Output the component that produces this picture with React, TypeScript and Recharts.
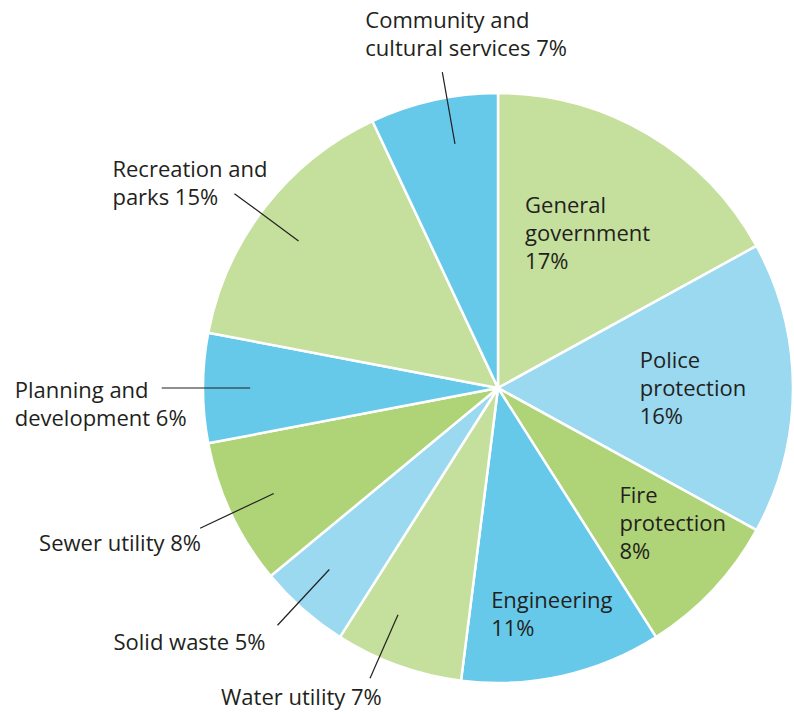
import React from "react";
import { Cell, Pie, PieChart } from "recharts";

// spending shares, clockwise from 12 o'clock
const categories = [
  "General government",
  "Police protection",
  "Fire protection",
  "Engineering",
  "Water utility",
  "Solid waste",
  "Sewer utility",
  "Planning and development",
  "Recreation and parks",
  "Community and cultural services",
];
const shares = [17, 16, 8, 11, 7, 5, 8, 6, 15, 7];
const sliceColors = [
  "#c5df9d",
  "#9ad9f0",
  "#aed477",
  "#67c9ea",
  "#c5df9d",
  "#9ad9f0",
  "#aed477",
  "#67c9ea",
  "#c5df9d",
  "#67c9ea",
];

const data = categories.map((name, i) => ({ name, value: shares[i] }));

const RAD = Math.PI / 180;
const INK = "#231f20";
const LINE_H = 28;

// label layout: inside labels sit at k*R on the mid angle, outside labels hang off a leader line
type Layout = {
  inside: boolean;
  k: number; // radius factor of the anchor / line end
  shift?: number; // degrees (clockwise) to nudge the leader line
  dx: number;
  dy: number;
  breakAt: number; // words on first line, 0 = no break
  pctOwnLine: boolean;
};

const layout: Record<string, Layout> = {
  "General government": { inside: true, k: 0.58, dx: -60, dy: -28, breakAt: 1, pctOwnLine: true },
  "Police protection": { inside: true, k: 0.66, dx: -53, dy: -20, breakAt: 1, pctOwnLine: true },
  "Fire protection": { inside: true, k: 0.76, dx: -42, dy: -38, breakAt: 1, pctOwnLine: true },
  Engineering: { inside: true, k: 0.81, dx: -59, dy: -13, breakAt: 0, pctOwnLine: true },
  "Water utility": { inside: false, k: 1.075, shift: 4, dx: -149, dy: 27, breakAt: 0, pctOwnLine: false },
  "Solid waste": { inside: false, k: 1.098, shift: 1.5, dx: -164, dy: 25, breakAt: 0, pctOwnLine: false },
  "Sewer utility": { inside: false, k: 1.116, dx: -161, dy: 23, breakAt: 0, pctOwnLine: false },
  "Planning and development": { inside: false, k: 1.14, dx: -147, dy: 10, breakAt: 2, pctOwnLine: false },
  "Recreation and parks": { inside: false, k: 1.11, shift: -1.4, dx: -122, dy: -17, breakAt: 2, pctOwnLine: false },
  "Community and cultural services": { inside: false, k: 1.087, shift: 2.6, dx: -77, dy: -44, breakAt: 2, pctOwnLine: false },
};

function point(cx: number, cy: number, r: number, angle: number) {
  return { x: cx + r * Math.cos(-angle * RAD), y: cy + r * Math.sin(-angle * RAD) };
}

function labelLines(name: string, value: number, l: Layout) {
  const words = name.split(" ");
  const pct = `${value}%`;
  const lines: string[] = [];
  if (l.breakAt > 0) {
    lines.push(words.slice(0, l.breakAt).join(" "));
    lines.push(words.slice(l.breakAt).join(" "));
  } else {
    lines.push(name);
  }
  if (l.pctOwnLine) lines.push(pct);
  else lines[lines.length - 1] += " " + pct;
  return lines;
}

function SliceLabel(props: any) {
  const { cx, cy, midAngle, outerRadius, name, value } = props;
  const l = layout[name];
  if (!l) return null;
  const angle = midAngle - (l.shift ?? 0);
  const anchor = point(cx, cy, outerRadius * l.k, angle);
  const inner = point(cx, cy, outerRadius * 0.84, angle);
  const lines = labelLines(name, value, l);
  return (
    <g>
      {!l.inside && (
        <line x1={inner.x} y1={inner.y} x2={anchor.x} y2={anchor.y} stroke={INK} strokeWidth={1.2} />
      )}
      <text
        x={anchor.x + l.dx}
        y={anchor.y + l.dy}
        fill={INK}
        fontFamily="'Open Sans', sans-serif"
        fontSize={22}
        textAnchor="start"
      >
        {lines.map((t, i) => (
          <tspan key={i} x={anchor.x + l.dx} dy={i === 0 ? 0 : LINE_H}>
            {t}
          </tspan>
        ))}
      </text>
    </g>
  );
}

export default function App() {
  return (
    <div style={{ position: "absolute", left: 0, top: 0, background: "#fff" }}>
      <PieChart width={794} height={714} margin={{ top: 0, right: 0, bottom: 0, left: 0 }}>
        <Pie
          data={data}
          dataKey="value"
          nameKey="name"
          cx={498}
          cy={388}
          outerRadius={295}
          startAngle={90}
          endAngle={-270}
          stroke="#ffffff"
          strokeWidth={2.5}
          label={SliceLabel}
          labelLine={false}
          isAnimationActive={false}
        >
          {data.map((d, i) => (
            <Cell key={d.name} fill={sliceColors[i]} />
          ))}
        </Pie>
      </PieChart>
    </div>
  );
}
